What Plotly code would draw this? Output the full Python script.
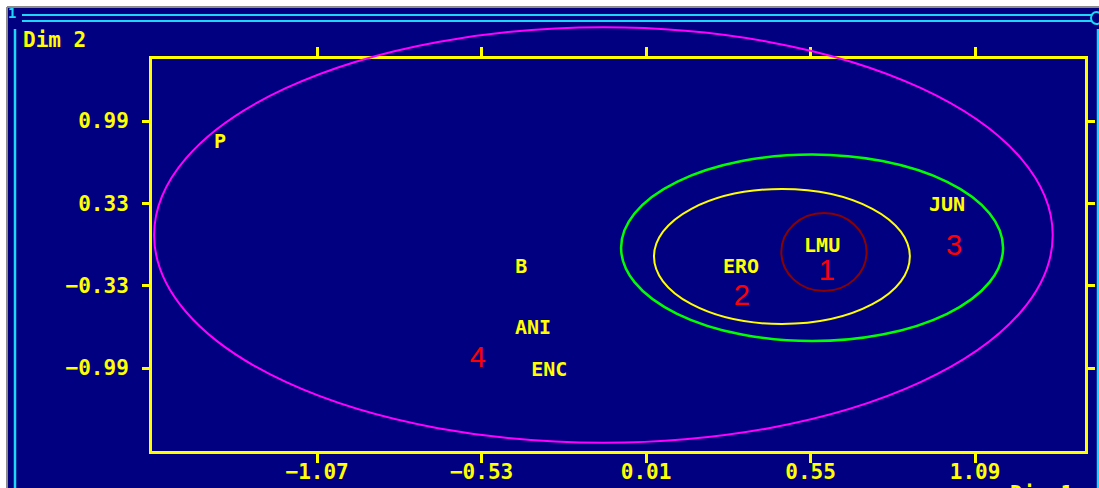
import plotly.graph_objects as go

W, H = 1099, 488

# ---------------- data ----------------
point_labels = ["P", "B", "ANI", "ENC", "ERO", "LMU", "JUN"]
point_x = [-1.389, -0.400, -0.361, -0.308, 0.322, 0.588, 0.998]
point_y = [0.814, -0.188, -0.677, -1.014, -0.188, -0.020, 0.309]

group_labels = ["1", "2", "3", "4"]
group_x = [0.603, 0.324, 1.021, -0.542]
group_y = [-0.228, -0.428, -0.028, -0.920]

ellipse_cx = [-0.130, 0.555, 0.456, 0.594]
ellipse_cy = [0.076, -0.026, -0.096, -0.060]
ellipse_rx = [1.475, 0.627, 0.420, 0.140]
ellipse_ry = [1.665, 0.748, 0.541, 0.313]

x_tickvals = [-1.07, -0.53, 0.01, 0.55, 1.09]
x_ticktext = ["\u22121.07", "\u22120.53", "0.01", "0.55", "1.09"]
y_tickvals = [0.99, 0.33, -0.33, -0.99]
y_ticktext = ["0.99", "0.33", "\u22120.33", "\u22120.99"]
x_range = [-1.612, 1.451]
y_range = [-1.655, 1.487]

# ---------------- styles ----------------
NAVY = "#000080"
YELLOW = "#FFFF00"
CYAN = "#1ED6F5"
ellipse_colors = ["#FF00FF", "#00FF00", "#FFFF00", "#8B0000"]
ellipse_widths = [2, 2.5, 2, 2]
MONO = "DejaVu Sans Mono"


def px(x):
    return x / W


def py(y):
    return 1 - y / H


x_dom = [px(152), px(1085)]
y_dom = [py(451), py(59)]

# overlay axes covering the whole page with identical scale
sx = (x_range[1] - x_range[0]) / (x_dom[1] - x_dom[0])
sy = (y_range[1] - y_range[0]) / (y_dom[1] - y_dom[0])
x2_range = [x_range[0] - x_dom[0] * sx, x_range[1] + (1 - x_dom[1]) * sx]
y2_range = [y_range[0] - y_dom[0] * sy, y_range[1] + (1 - y_dom[1]) * sy]

fig = go.Figure()

fig.add_trace(go.Scatter(
    x=point_x, y=point_y, text=point_labels, mode="text",
    textposition="middle center", cliponaxis=False,
    textfont=dict(family=MONO, size=20, color=YELLOW, weight="bold"),
    hoverinfo="skip", showlegend=False,
))
fig.add_trace(go.Scatter(
    x=group_x, y=group_y, text=group_labels, mode="text",
    textposition="middle center", cliponaxis=False,
    textfont=dict(family="Liberation Sans", size=29, color="#FF0000"),
    hoverinfo="skip", showlegend=False,
))
# invisible anchor trace for the overlay axes
fig.add_trace(go.Scatter(x=[x2_range[0]], y=[y2_range[0]], xaxis="x2", yaxis="y2",
                         mode="markers", marker=dict(opacity=0), hoverinfo="skip",
                         showlegend=False))

shapes = []
# window background and borders
shapes.append(dict(type="rect", xref="paper", yref="paper", x0=px(7), x1=1, y0=0, y1=py(7),
                   fillcolor=NAVY, line=dict(width=0), layer="below"))
shapes.append(dict(type="line", xref="paper", yref="paper", x0=px(7), x1=1, y0=py(7), y1=py(7),
                   line=dict(color="#8C8C8C", width=2), layer="below"))
shapes.append(dict(type="line", xref="paper", yref="paper", x0=px(7), x1=px(7), y0=0, y1=py(7),
                   line=dict(color="#8C8C8C", width=2), layer="below"))
for yy in (15, 21):
    shapes.append(dict(type="line", xref="paper", yref="paper", x0=px(22), x1=px(1092),
                       y0=py(yy), y1=py(yy), line=dict(color=CYAN, width=2), layer="below"))
shapes.append(dict(type="line", xref="paper", yref="paper", x0=px(15), x1=px(15),
                   y0=0, y1=py(29), line=dict(color=CYAN, width=2.5), layer="below"))
shapes.append(dict(type="line", xref="paper", yref="paper", x0=px(1098), x1=px(1098),
                   y0=0, y1=py(29), line=dict(color=CYAN, width=2.5), layer="below"))
shapes.append(dict(type="circle", xref="paper", yref="paper", x0=px(1091), x1=px(1102),
                   y0=py(24), y1=py(12), line=dict(color=CYAN, width=2), layer="below"))

# ellipses
for cx, cy, rx, ry, col, lw in zip(ellipse_cx, ellipse_cy, ellipse_rx, ellipse_ry,
                                   ellipse_colors, ellipse_widths):
    shapes.append(dict(type="circle", xref="x2", yref="y2",
                       x0=cx - rx, x1=cx + rx, y0=cy - ry, y1=cy + ry,
                       line=dict(color=col, width=lw), layer="above"))

annotations = [
    dict(text="Dim 2", xref="paper", yref="paper", x=px(21), y=py(40),
         xanchor="left", yanchor="middle", showarrow=False,
         font=dict(family=MONO, size=21, color=YELLOW, weight="bold")),
    dict(text="Dim 1", xref="paper", yref="paper", x=px(1008), y=py(480),
         xanchor="left", yanchor="top", showarrow=False,
         font=dict(family=MONO, size=21, color=YELLOW, weight="bold")),
    dict(text="1", xref="paper", yref="paper", x=px(12), y=py(13),
         xanchor="center", yanchor="middle", showarrow=False,
         font=dict(family=MONO, size=14, color=CYAN, weight="bold")),
]

tickfont = dict(family=MONO, size=21, color=YELLOW, weight="bold")

fig.update_layout(
    width=W, height=H,
    margin=dict(l=0, r=0, t=0, b=0),
    paper_bgcolor="white",
    plot_bgcolor="rgba(0,0,0,0)",
    showlegend=False,
    shapes=shapes,
    annotations=annotations,
    xaxis=dict(domain=x_dom, range=x_range, anchor="y",
               tickmode="array", tickvals=x_tickvals, ticktext=x_ticktext,
               showgrid=False, zeroline=False, showline=True, linecolor=YELLOW,
               linewidth=3, mirror="ticks", ticks="outside", ticklen=9,
               tickwidth=3, tickcolor=YELLOW, tickfont=tickfont,
               ticklabelstandoff=-9),
    yaxis=dict(domain=y_dom, range=y_range, anchor="x",
               tickmode="array", tickvals=y_tickvals, ticktext=y_ticktext,
               showgrid=False, zeroline=False, showline=True, linecolor=YELLOW,
               linewidth=3, mirror="ticks", ticks="outside", ticklen=7,
               tickwidth=3, tickcolor=YELLOW, tickfont=tickfont,
               ticklabelstandoff=9),
    xaxis2=dict(domain=[0, 1], range=x2_range, anchor="y2", visible=False),
    yaxis2=dict(domain=[0, 1], range=y2_range, anchor="x2", visible=False),
)

fig.write_html("out.html",
               config={"displayModeBar": False, "staticPlot": True},
               post_script="document.body.style.margin='0';"
                           "document.body.style.overflow='hidden';")
